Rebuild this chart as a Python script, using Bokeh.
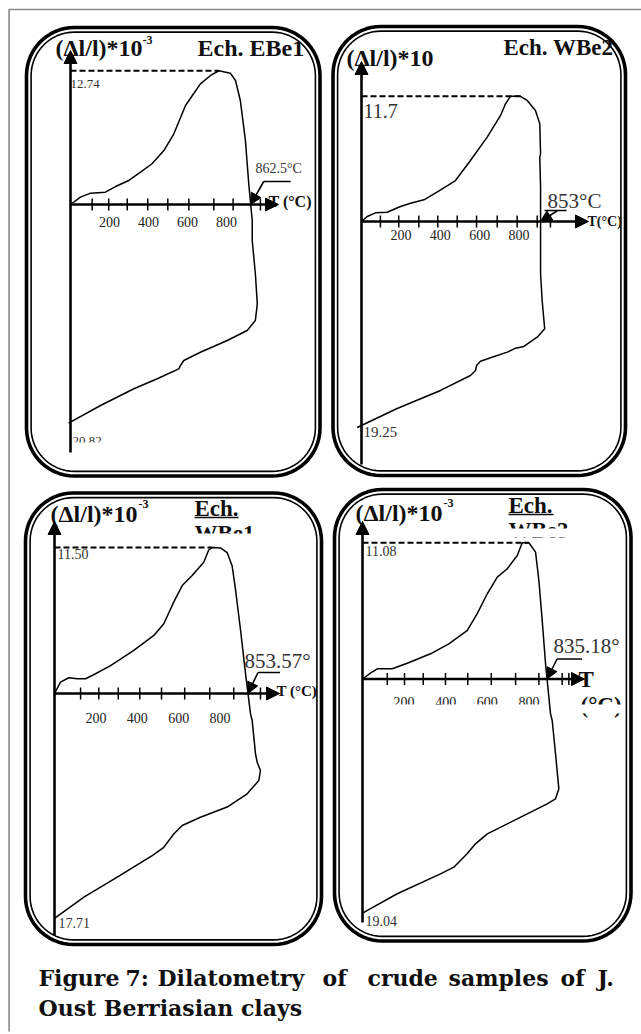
import numpy as np
from bokeh.plotting import figure
from bokeh.models import Range1d, Arrow, NormalHead
from bokeh.core.properties import value
from bokeh.embed import file_html
from bokeh.resources import INLINE

# ---------------- data ----------------
# T in °C, D = (Δl/l)*10^-3
ebe1_T = [0, 51, 103, 179, 231, 299, 359, 418, 479, 530, 590, 625, 666, 718, 761, 820, 846, 871, 897, 914,
          932, 932, 948, 958, 948, 906, 804, 666, 581, 564, 555, 445, 325, 154, -10]
ebe1_D = [0, 0.70, 1.08, 1.17, 1.71, 2.29, 3.08, 3.88, 5.14, 6.73, 9.43, 10.38, 11.49, 12.29, 12.74, 12.50,
          11.81, 9.90, 6.10, 2.0, -1.52, -3.43, -6.6, -9.46, -11.05, -12.0, -12.95, -14.07, -14.86, -15.33,
          -15.65, -16.6, -17.55, -19.14, -20.82]

wbe2_T = [0, 29, 71, 130, 198, 249, 317, 383, 477, 553, 638, 706, 731, 756, 807, 841, 883, 905, 909, 905,
          909, 909, 909, 917, 930, 892, 824, 782, 740, 655, 604, 584, 579, 553, 401, 181, -22]
wbe2_D = [0, 0.47, 0.81, 0.87, 1.40, 1.71, 2.03, 2.74, 3.83, 5.70, 7.88, 9.91, 11.0, 11.7, 11.7, 11.31,
          10.37, 9.13, 6.33, 6.01, 3.21, -1.15, -4.89, -7.38, -10.03, -10.81, -11.68, -11.84, -12.21,
          -12.74, -13.06, -13.46, -13.93, -14.39, -15.79, -17.48, -19.25]

wbe1_T = [0, 29, 69, 110, 150, 182, 271, 383, 480, 528, 576, 617, 665, 721, 745, 762, 802, 834, 858, 874,
          899, 923, 947, 955, 971, 979, 995, 987, 931, 834, 705, 617, 576, 528, 472, 303, 142, 0]
wbe1_D = [0, 0.89, 1.24, 1.16, 1.16, 1.42, 2.20, 3.39, 4.57, 5.49, 7.19, 8.50, 9.29, 10.34, 11.3, 11.5,
          11.46, 11.10, 10.06, 8.24, 4.96, 1.55, -1.60, -2.13, -4.75, -5.41, -6.06, -6.85, -7.90, -8.94,
          -9.74, -10.39, -11.06, -12.11, -12.76, -14.46, -16.03, -17.71]

wbe3_T = [0, 38, 71, 143, 215, 327, 415, 503, 551, 600, 648, 696, 744, 768, 800, 832, 848, 864, 880, 904,
          912, 928, 944, 928, 888, 744, 600, 543, 503, 439, 375, 167, 0]
wbe3_D = [0, 0.47, 0.83, 0.83, 1.28, 2.05, 2.86, 3.94, 5.30, 6.93, 8.28, 8.96, 10.04, 11.08, 11.08, 10.31,
          8.01, 4.76, 1.24, -2.83, -3.37, -6.08, -8.93, -9.74, -10.15, -11.37, -12.59, -13.40, -14.21,
          -15.30, -15.84, -17.46, -19.04]

ebe1_ticks = [111, 196, 291, 396, 499, 607, 735, 834, 974]
wbe2_ticks = [96, 189, 291, 387, 486, 584, 689, 790, 892, 959]
wbe1_ticks = [126, 214, 308, 412, 517, 629, 750, 866, 995]
wbe3_ticks = [119, 202, 292, 399, 506, 619, 736, 848, 960, 992]

label_values = [200, 400, 600, 800]
label_texts = ["200", "400", "600", "800"]

peak_labels = ["12.74", "11.7", "11.50", "11.08"]
end_labels = ["20.82", "19.25", "17.71", "19.04"]
cross_labels = ["862.5°C", "853°C", "853.57°", "835.18°"]

# ---------------- layout (page pixels) ----------------
W, H = 641, 1034
X0P, X1P, Y0P, Y1P = 0, W, 0, H
SERIF = value("Liberation Serif")

panels = [
    dict(T=ebe1_T, D=ebe1_D, ticks=ebe1_ticks, x0=70, sx=0.195, y0=204, sy=10.5,
         ytop=50, ybot=452, xend=278, tly=221, box=(26, 27, 319.5, 475.5),
         arrow=(13, -23, 0, 27)),
    dict(T=wbe2_T, D=wbe2_D, ticks=wbe2_ticks, x0=361, sx=0.197, y0=221, sy=10.7,
         ytop=61, ybot=464, xend=588, tly=234, box=(332.5, 26, 625, 475),
         arrow=(17, -11, -13, 9)),
    dict(T=wbe1_T, D=wbe1_D, ticks=wbe1_ticks, x0=54, sx=0.207, y0=693, sy=12.7,
         ytop=521, ybot=935, xend=279, tly=717, box=(25, 492.5, 321, 944),
         arrow=(10, -21, 0, 22)),
    dict(T=wbe3_T, D=wbe3_D, ticks=wbe3_ticks, x0=362, sx=0.208, y0=678.5, sy=12.3,
         ytop=521, ybot=922, xend=584, tly=701, box=(334, 489, 630.5, 940.5),
         arrow=(10, -20, 0, 25)),
]

texts = [
    # (text, x, y, size, bold, color)
    ("(Δl/l)*10", 55, 47, 24, True, "#111"), ("-3", 142, 39, 12, True, "#111"),
    ("Ech. EBe1", 197, 47, 24, True, "#111"),
    (peak_labels[0], 70, 83, 13, False, "#333"), (cross_labels[0], 255, 168, 14, False, "#333"),
    ("T (°C)", 268, 201, 16, True, "#111"), (end_labels[0], 72, 440, 13, False, "#333"),

    ("(Δl/l)*10", 346, 57, 24, True, "#111"), ("Ech. WBe2", 503, 47, 23, True, "#111"),
    (peak_labels[1], 363, 110, 20, False, "#333"), (cross_labels[1], 547, 200, 21, False, "#333"),
    ("T(°C)", 587, 221, 14, True, "#111"), (end_labels[1], 363, 431, 15, False, "#333"),

    ("(Δl/l)*10", 50, 513, 24, True, "#111"), ("-3", 138, 503, 12, True, "#111"),
    ("Ech.", 194, 508, 23, True, "#111"), ("WBe1", 194, 533, 23, True, "#111"),
    (peak_labels[2], 57, 553, 14, False, "#333"), (cross_labels[2], 244, 660, 21, False, "#333"),
    ("T (°C)", 276, 690, 15, True, "#111"), (end_labels[2], 58, 922, 14, False, "#333"),

    ("(Δl/l)*10", 355, 512, 24, True, "#111"), ("-3", 443, 502, 12, True, "#111"),
    ("Ech.", 508, 505, 23, True, "#111"), ("WBe3", 508, 530, 23, True, "#111"),
    (peak_labels[3], 365, 550, 14, False, "#333"), (cross_labels[3], 553, 645, 21, False, "#333"),
    ("T", 578, 679, 23, True, "#111"), ("(°C)", 580, 705, 23, True, "#111"),
    (end_labels[3], 365, 920, 14, False, "#333"),
]
underlines = [(194, 238, 517), (508, 553, 514)]
# white masks imitating the clipped text boxes of the original (x0, x1, y0, y1)
masks = [(71, 110, 442, 452), (188, 262, 533, 541), (502, 575, 528, 537), (375, 624, 704, 713)]

caption_words = [("Figure", 38), ("7:", 125), ("Dilatometry", 157), ("of", 322), ("crude", 367),
                 ("samples", 448), ("of", 560), ("J.", 597)]
caption_line2 = "Oust Berriasian clays"

# ---------------- figure ----------------
p = figure(width=W, height=H, x_range=Range1d(X0P, X1P), y_range=Range1d(Y1P, Y0P),
           output_backend="svg", toolbar_location=None, min_border=0)
p.axis.visible = False
p.grid.visible = False
p.outline_line_color = None
p.background_fill_color = "white"

# outer page frame (top and left edges)
p.line([8.6, 8.6, X1P], [1031, 9, 9], line_color="#888888", line_width=1.6)


def rrect(x0, y0, x1, y1, r, n=16):
    xs, ys = [], []
    for cx, cy, a0 in [(x0 + r, y0 + r, 180), (x1 - r, y0 + r, 270), (x1 - r, y1 - r, 0), (x0 + r, y1 - r, 90)]:
        a = np.radians(np.linspace(a0, a0 + 90, n))
        xs += list(cx + r * np.cos(a))
        ys += list(cy + r * np.sin(a))
    xs.append(xs[0]); ys.append(ys[0])
    return xs, ys


for pn in panels:
    bx0, by0, bx1, by1 = pn["box"]
    xs, ys = rrect(bx0, by0, bx1, by1, 48)
    p.line(xs, ys, line_color="black", line_width=3.6, line_join="round")
    g = 4.6
    xs, ys = rrect(bx0 + g, by0 + g, bx1 - g, by1 - g, 48 - g)
    p.line(xs, ys, line_color="black", line_width=1.6, line_join="round")

for (t, x, y, s, b, c) in texts:
    p.text(x=[x], y=[y], text=[t], text_font=SERIF, text_font_size=f"{s}px",
           text_font_style="bold" if b else "normal", text_color=c,
           text_baseline="middle", text_align="left")

for (a, b, y) in underlines:
    p.segment(x0=[a], y0=[y], x1=[b], y1=[y], line_color="#111", line_width=1.5)

for (t, x) in caption_words:
    p.text(x=[x], y=[977], text=[t], text_font=value("DejaVu Serif"), text_font_size="22px",
           text_font_style="bold", text_color="#111", text_baseline="middle")
p.text(x=[38], y=[1007], text=[caption_line2], text_font=value("DejaVu Serif"), text_font_size="22px",
       text_font_style="bold", text_color="#111", text_baseline="middle")

# panel tick labels (before masks)
for i, pn in enumerate(panels):
    xn, yn = f"x{i}", f"y{i}"
    p.extra_x_ranges[xn] = Range1d((X0P - pn["x0"]) / pn["sx"], (X1P - pn["x0"]) / pn["sx"])
    p.extra_y_ranges[yn] = Range1d((pn["y0"] - Y1P) / pn["sy"], (pn["y0"] - Y0P) / pn["sy"])
    ly = (pn["y0"] - pn["tly"]) / pn["sy"]
    p.text(x=label_values, y=[ly] * len(label_values), text=label_texts, text_font=SERIF,
           text_font_size="14px", text_color="#222", text_align="center", text_baseline="middle",
           x_range_name=xn, y_range_name=yn)

for (a, b, c, d) in masks:
    p.quad(left=[a], right=[b], top=[c], bottom=[d], fill_color="white", line_color=None)

# panel data
for i, pn in enumerate(panels):
    xn, yn = f"x{i}", f"y{i}"
    sx, sy = pn["sx"], pn["sy"]
    T = np.array(pn["T"], dtype=float)
    D = np.array(pn["D"], dtype=float)
    kw = dict(x_range_name=xn, y_range_name=yn)

    # curve
    p.line(T, D, line_color="black", line_width=1.5, line_join="round", **kw)

    # dashed line at maximum
    k = int(len(D) - 1 - np.argmax(D[::-1]))
    p.segment(x0=[0], y0=[D[k]], x1=[T[k]], y1=[D[k]], line_color="black", line_width=2,
              line_dash="6 3", **kw)

    # ticks
    tk = pn["ticks"]
    p.segment(x0=tk, y0=[-6 / sy] * len(tk), x1=tk, y1=[6 / sy] * len(tk),
              line_color="black", line_width=1.5, **kw)

    # axes with arrow heads
    p.add_layout(Arrow(x_start=0, y_start=(pn["y0"] - pn["ybot"]) / sy, x_end=0,
                       y_end=(pn["y0"] - pn["ytop"]) / sy, line_width=2.6, line_color="black",
                       end=NormalHead(size=13, fill_color="black", line_color="black"), **kw))
    p.add_layout(Arrow(x_start=0, y_start=0, x_end=(pn["xend"] - pn["x0"]) / sx, y_end=0,
                       line_width=2.6, line_color="black",
                       end=NormalHead(size=13, fill_color="black", line_color="black"), **kw))

    # crossing of the shrinkage branch with the T axis
    tc = T[k]
    for j in range(k, len(D) - 1):
        if D[j] > 0 >= D[j + 1]:
            tc = T[j] + (T[j + 1] - T[j]) * D[j] / (D[j] - D[j + 1])
            break
    dx, dy, l0, l1 = pn["arrow"]
    tx, ty = tc + dx / sx, -dy / sy
    p.add_layout(Arrow(x_start=tx, y_start=ty, x_end=tc, y_end=0, line_width=1.6, line_color="black",
                       end=NormalHead(size=11, fill_color="black", line_color="black"), **kw))
    p.segment(x0=[tx + l0 / sx], y0=[ty], x1=[tx + l1 / sx], y1=[ty], line_color="black",
              line_width=1.5, **kw)

open("out.html", "w").write(file_html(p, INLINE))
